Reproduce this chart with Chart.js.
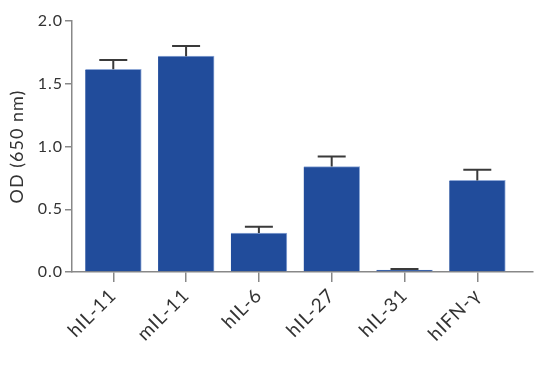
<!DOCTYPE html>
<html><head><meta charset="utf-8">
<script src="https://cdn.jsdelivr.net/npm/chart.js@4/dist/chart.umd.min.js"></script>
<style>html,body{margin:0;padding:0;background:#fff}#wrap{width:550px;height:367px}</style>
</head><body><div id="wrap"><canvas id="c" width="550" height="367"></canvas></div>
<script>
const categories = ["hIL-11", "mIL-11", "hIL-6", "hIL-27", "hIL-31", "hIFN-γ"];
const odValues = [1.615, 1.72, 0.31, 0.84, 0.015, 0.73];
const errorUpper = [0.075, 0.08, 0.05, 0.08, 0.008, 0.085];
const yTicks = [0, 0.5, 1.0, 1.5, 2.0];

const spacingPlugin = {
  id: 'spacing',
  beforeUpdate(chart) { chart.ctx.letterSpacing = '1px'; },
  beforeDraw(chart) { chart.ctx.letterSpacing = '1px'; }
};

const errPlugin = {
  id: 'errbars',
  afterDatasetsDraw(chart) {
    const ctx = chart.ctx, xs = chart.scales.x, ys = chart.scales.y;
    ctx.save();
    ctx.strokeStyle = '#3a3a3a';
    ctx.lineWidth = 2;
    odValues.forEach((v, i) => {
      const x = xs.getPixelForValue(i);
      const y0 = ys.getPixelForValue(v);
      const y1 = ys.getPixelForValue(v + errorUpper[i]);
      ctx.beginPath();
      ctx.moveTo(x, y0); ctx.lineTo(x, y1);
      ctx.moveTo(x - 14, y1); ctx.lineTo(x + 14, y1);
      ctx.stroke();
    });
    ctx.restore();
  }
};

new Chart(document.getElementById('c'), {
  type: 'bar',
  data: {
    datasets: [{
      data: odValues.map((v, i) => ({x: i, y: v})),
      backgroundColor: '#214c9b',
      borderColor: '#8fa8d6',
      borderWidth: {top: 1, right: 1, left: 0, bottom: 0},
      barThickness: 56
    }]
  },
  options: {
    responsive: false,
    animation: false,
    devicePixelRatio: 1,
    layout: {padding: {top: 21, right: 17, left: 6, bottom: 0}},
    plugins: {legend: {display: false}, tooltip: {enabled: false}},
    scales: {
      x: {
        type: 'linear',
        offset: false,
        min: -0.567, max: 5.765,
        afterBuildTicks(s) { s.ticks = categories.map((c, i) => ({value: i})); },
        afterFit(s) { s.height = 95; },
        grid: {drawOnChartArea: false, offset: false, tickLength: 10, color: '#888', lineWidth: 1.5},
        border: {color: '#888', width: 1.5},
        ticks: {
          callback: (v) => categories[v],
          maxRotation: 45, minRotation: 45,
          color: '#333', font: {family: 'Lato', size: 19}, padding: 2
        }
      },
      y: {
        min: 0, max: 2,
        afterBuildTicks(s) { s.ticks = yTicks.map(v => ({value: v})); },
        afterFit(s) { s.width = 66; },
        grid: {drawOnChartArea: false, tickLength: 7, color: '#888', lineWidth: 1.5},
        border: {color: '#888', width: 1.5},
        title: {display: true, text: 'OD (650 nm)', color: '#333', font: {family: 'Lato', size: 18}, padding: 0},
        ticks: {callback: v => v.toFixed(1), color: '#333', font: {family: 'Lato', size: 16}, padding: 2}
      }
    }
  },
  plugins: [spacingPlugin, errPlugin]
});
</script></body></html>
